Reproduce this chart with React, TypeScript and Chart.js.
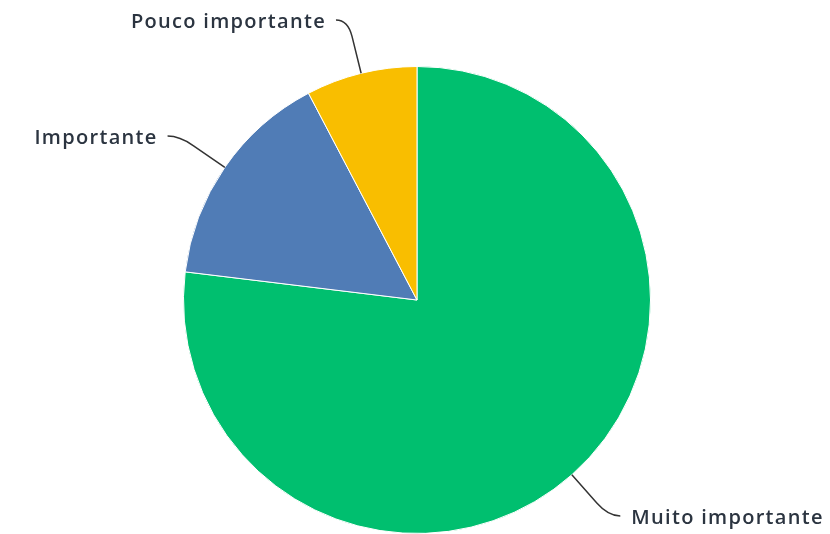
import React, { useEffect, useRef } from "react";
import { Chart, registerables } from "chart.js";

Chart.register(...registerables);

const categories = ["Muito importante", "Importante", "Pouco importante"];
const values = [10, 2, 1];
const colors = ["#00BF6F", "#507CB6", "#F9BE00"];

const leaderPlugin = {
  id: "leaderLabels",
  afterDatasetsDraw(chart: any) {
    const { ctx } = chart;
    const meta = chart.getDatasetMeta(0);
    ctx.save();
    ctx.font = "600 20px 'Open Sans'";
    (ctx as any).letterSpacing = "1.3px";
    ctx.textBaseline = "middle";
    meta.data.forEach((arc: any, i: number) => {
      const { x, y, startAngle, endAngle, outerRadius } = arc.getProps(
        ["x", "y", "startAngle", "endAngle", "outerRadius"],
        true
      );
      const mid = (startAngle + endAngle) / 2;
      const dx = Math.cos(mid);
      const dy = Math.sin(mid);
      const right = dx >= 0;
      const p0x = x + dx * outerRadius;
      const p0y = y + dy * outerRadius;
      const p1x = x + dx * (outerRadius + 38);
      const p1y = y + dy * (outerRadius + 38);
      const ex = x + dx * (outerRadius + 55);
      const ey = y + dy * (outerRadius + 55);
      const endX = ex + (right ? 12 : -12);
      ctx.beginPath();
      ctx.strokeStyle = "#333";
      ctx.lineWidth = 1.5;
      ctx.moveTo(p0x, p0y);
      ctx.lineTo(p1x, p1y);
      ctx.quadraticCurveTo(ex, ey, endX, ey);
      ctx.stroke();
      ctx.fillStyle = "#2B3440";
      ctx.textAlign = right ? "left" : "right";
      ctx.fillText(categories[i], endX + (right ? 11 : -10), ey + 2);
    });
    ctx.restore();
  },
};

export default function App() {
  const ref = useRef<HTMLCanvasElement>(null);
  useEffect(() => {
    document.body.style.margin = "0";
    const chart = new Chart(ref.current!, {
      type: "pie",
      data: {
        labels: categories,
        datasets: [
          {
            data: values,
            backgroundColor: colors,
            borderColor: "#ffffff",
            borderWidth: 1,
          },
        ],
      },
      options: {
        animation: false,
        responsive: false,
        maintainAspectRatio: false,
        layout: { padding: { top: 66, bottom: 0, left: 4, right: 0 } },
        plugins: {
          legend: { display: false },
          tooltip: { enabled: false },
        },
      },
      plugins: [leaderPlugin],
    });
    return () => chart.destroy();
  }, []);
  return (
    <div style={{ position: "absolute", left: 0, top: 0, width: 830, height: 534 }}>
      <canvas ref={ref} width={830} height={534} style={{ width: 830, height: 534 }} />
    </div>
  );
}
